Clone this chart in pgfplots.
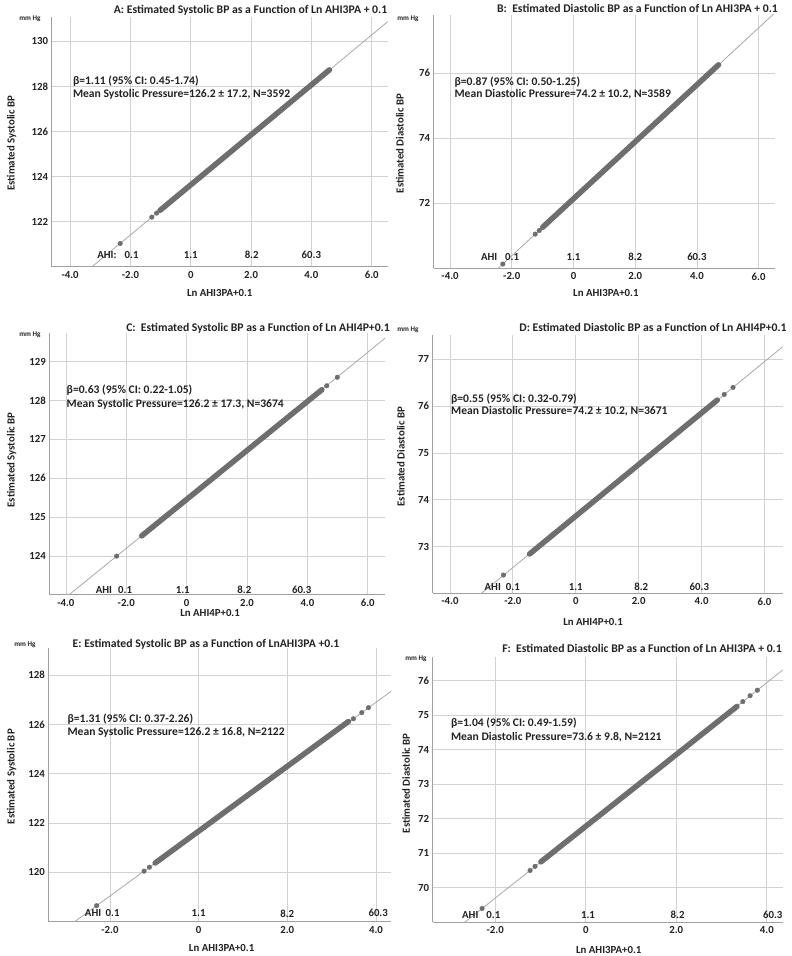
\documentclass[border=0pt]{standalone}
\usepackage{pgfplots}
\pgfplotsset{compat=1.18}
\usepackage{fontspec}
\setmainfont{Carlito}[BoldFont={Carlito Bold}]
\definecolor{txt}{HTML}{222222}
\definecolor{gridgray}{HTML}{D2D2D2}
\definecolor{axgray}{HTML}{A0A0A0}
\definecolor{linegray}{HTML}{A8A8A8}
\definecolor{ptgray}{HTML}{6E6E6E}
\newcommand{\tfont}{\bfseries\fontsize{11.7}{14}\selectfont}
\newcommand{\lfont}{\bfseries\fontsize{10.8}{12}\selectfont}
\newcommand{\kfont}{\bfseries\fontsize{10.8}{12}\selectfont}
\newcommand{\afont}{\bfseries\fontsize{11.6}{14}\selectfont}
\newcommand{\mfont}{\bfseries\fontsize{7.2}{8}\selectfont}
\tikzset{
  ahi/.style={font=\kfont, text=txt, anchor=center},
  ann/.style={font=\afont, text=txt, anchor=west, inner sep=0pt},
}
\pgfplotsset{
  bp/.style={
    scale only axis,
    anchor=south west,
    axis lines*=left,
    axis line style={draw=axgray, line width=1pt},
    grid=major,
    grid style={draw=gridgray, line width=0.8pt},
    major tick length=0pt,
    tick style={draw=none},
    ticklabel style={font=\kfont, text=txt},
    xticklabel style={yshift=-1pt},
    label style={font=\lfont, text=txt},
    xlabel style={anchor=center},
    ylabel style={anchor=center},
    clip mode=individual,
  },
  regline/.style={draw=linegray, line width=0.8pt, no marks},
  band/.style={draw=ptgray, line width=5.5pt, line cap=round, no marks},
  pts/.style={only marks, mark=*, mark size=2.3pt, mark options={fill=ptgray, draw=ptgray}},
}
\begin{document}
\begin{tikzpicture}
\useasboundingbox (0pt,0pt) rectangle (792pt,956pt);

% ---------------- A ----------------
\begin{axis}[bp, at={(51.7pt,689.3pt)}, width=336pt, height=250pt,
  xmin=-4.61, xmax=6.53, ymin=120, ymax=131.1,
  xtick={-4,-2,0,2,4,6}, xticklabels={-4.0,-2.0,0,2.0,4.0,6.0},
  ytick={122,124,126,128,130}, yticklabels={122,124,126,128,130},
  xlabel={Ln AHI3PA+0.1}, xlabel style={at={(axis description cs:0.5,-0.105)}},
  ylabel={Estimated Systolic BP}, ylabel style={at={(axis description cs:-0.119,0.494)}}]
\addplot[regline] coordinates {(-3.4,119.856) (6.6,130.956)};
\addplot[band] coordinates {(-1.02,122.50) (4.60,128.74)};
\addplot[pts] coordinates {(-2.34,121.03) (-1.29,122.20) (-1.13,122.38)};
\node[ahi] at (axis cs:-2.78,120.52) {AHI:};
\node[ahi] at (axis cs:-1.96,120.52) {0.1};
\node[ahi] at (axis cs:0,120.52) {1.1};
\node[ahi] at (axis cs:2.02,120.52) {8.2};
\node[ahi] at (axis cs:4.0,120.52) {60.3};
\node[ann] at (axis cs:-3.91,128.23) {β=1.11 (95\% CI: 0.45-1.74)};
\node[ann] at (axis cs:-3.91,127.67) {Mean Systolic Pressure=126.2 ± 17.2, N=3592};
\end{axis}

% ---------------- B ----------------
\begin{axis}[bp, at={(433.7pt,687.7pt)}, width=341.6pt, height=253.3pt,
  xmin=-4.53, xmax=6.54, ymin=70, ymax=77.78,
  xtick={-4,-2,0,2,4,6}, xticklabels={-4.0,-2.0,0,2.0,4.0,6.0},
  ytick={72,74,76}, yticklabels={72,74,76},
  xlabel={Ln AHI3PA+0.1}, xlabel style={at={(axis description cs:0.504,-0.0975)}},
  ylabel={Estimated Diastolic BP}, ylabel style={at={(axis description cs:-0.0987,0.493)}}]
\addplot[regline] coordinates {(-2.6,69.86) (6.6,77.91)};
\addplot[band] coordinates {(-1.00,71.26) (4.70,76.25)};
\addplot[pts] coordinates {(-2.29,70.13) (-1.24,71.05) (-1.11,71.16)};
\node[ahi] at (axis cs:-2.73,70.34) {AHI};
\node[ahi] at (axis cs:-1.99,70.34) {0.1};
\node[ahi] at (axis cs:0,70.34) {1.1};
\node[ahi] at (axis cs:2,70.34) {8.2};
\node[ahi] at (axis cs:4,70.34) {60.3};
\node[ann] at (axis cs:-3.86,75.71) {β=0.87 (95\% CI: 0.50-1.25)};
\node[ann] at (axis cs:-3.86,75.34) {Mean Diastolic Pressure=74.2 ± 10.2, N=3589};
\end{axis}

% ---------------- C ----------------
\begin{axis}[bp, at={(49.3pt,361pt)}, width=335.7pt, height=261.7pt,
  xmin=-4.55, xmax=6.57, ymin=123, ymax=129.73,
  xtick={-4,-2,0,2,4,6}, xticklabels={-4.0,-2.0,0,2.0,4.0,6.0},
  ytick={124,125,126,127,128,129}, yticklabels={124,125,126,127,128,129},
  xlabel={Ln AHI4P+0.1}, xlabel style={at={(axis description cs:0.479,-0.070)}},
  ylabel={Estimated Systolic BP}, ylabel style={at={(axis description cs:-0.112,0.516)}}]
\addplot[regline] coordinates {(-4.0,122.94) (6.6,129.62)};
\addplot[band] coordinates {(-1.49,124.52) (4.48,128.28)};
\addplot[pts] coordinates {(-2.32,124.00) (4.64,128.38) (4.99,128.60)};
\node[ahi] at (axis cs:-2.74,123.13) {AHI};
\node[ahi] at (axis cs:-2.04,123.13) {0.1};
\node[ahi] at (axis cs:-0.13,123.13) {1.1};
\node[ahi] at (axis cs:1.91,123.13) {8.2};
\node[ahi] at (axis cs:3.81,123.13) {60.3};
\node[ann] at (axis cs:-3.98,128.27) {β=0.63 (95\% CI: 0.22-1.05)};
\node[ann] at (axis cs:-3.98,127.90) {Mean Systolic Pressure=126.2 ± 17.3, N=3674};
\end{axis}

% ---------------- D ----------------
\begin{axis}[bp, at={(432.7pt,362.7pt)}, width=350pt, height=258.3pt,
  xmin=-4.55, xmax=6.58, ymin=72, ymax=77.52,
  xtick={-4,-2,0,2,4,6}, xticklabels={-4.0,-2.0,0,2.0,4.0,6.0},
  ytick={73,74,75,76,77}, yticklabels={73,74,75,76,77},
  xlabel={Ln AHI4P+0.1}, xlabel style={at={(axis description cs:0.458,-0.111)}},
  ylabel={Estimated  Diastolic BP}, ylabel style={at={(axis description cs:-0.0906,0.529)}}]
\addplot[regline] coordinates {(-3.1,71.945) (6.6,77.28)};
\addplot[band] coordinates {(-1.47,72.84) (4.50,76.13)};
\addplot[pts] coordinates {(-2.30,72.39) (4.72,76.25) (5.00,76.40)};
\node[ahi] at (axis cs:-2.64,72.13) {AHI};
\node[ahi] at (axis cs:-2.0,72.13) {0.1};
\node[ahi] at (axis cs:0,72.13) {1.1};
\node[ahi] at (axis cs:2.08,72.13) {8.2};
\node[ahi] at (axis cs:3.93,72.13) {60.3};
\node[ann] at (axis cs:-3.97,76.15) {β=0.55 (95\% CI: 0.32-0.79)};
\node[ann] at (axis cs:-3.97,75.89) {Mean Diastolic Pressure=74.2 ± 10.2, N=3671};
\end{axis}

% ---------------- E ----------------
\begin{axis}[bp, at={(48.3pt,34.3pt)}, width=343.2pt, height=273.7pt,
  xmin=-3.39, xmax=4.35, ymin=118, ymax=129.1,
  xtick={-2,0,2,4}, xticklabels={-2.0,0,2.0,4.0},
  ytick={120,122,124,126,128}, yticklabels={120,122,124,126,128},
  xlabel={Ln AHI3PA+0.1}, xlabel style={at={(axis description cs:0.505,-0.097)}},
  ylabel={Estimated Systolic BP}, ylabel style={at={(axis description cs:-0.1066,0.53)}}]
\addplot[regline] coordinates {(-2.85,117.93) (4.4,127.42)};
\addplot[band] coordinates {(-0.98,120.38) (3.38,126.12)};
\addplot[pts] coordinates {(-2.30,118.65) (-1.23,120.05) (-1.11,120.21) (3.49,126.23) (3.68,126.48) (3.83,126.68)};
\node[ahi] at (axis cs:-2.38,118.34) {AHI};
\node[ahi] at (axis cs:-1.94,118.34) {0.1};
\node[ahi] at (axis cs:0,118.34) {1.1};
\node[ahi] at (axis cs:2.0,118.34) {8.2};
\node[ahi] at (axis cs:4.05,118.34) {60.3};
\node[ann] at (axis cs:-2.96,126.20) {β=1.31 (95\% CI: 0.37-2.26)};
\node[ann] at (axis cs:-2.96,125.66) {Mean Systolic Pressure=126.2 ± 16.8, N=2122};
\end{axis}

% ---------------- F ----------------
\begin{axis}[bp, at={(432.7pt,33.7pt)}, width=350pt, height=265.6pt,
  xmin=-3.38, xmax=4.35, ymin=69, ymax=76.69,
  xtick={-2,0,2,4}, xticklabels={-2.0,0,2.0,4.0},
  ytick={70,71,72,73,74,75,76}, yticklabels={70,71,72,73,74,75,76},
  xlabel={Ln AHI3PA+0.1}, xlabel style={at={(axis description cs:0.503,-0.104)}},
  ylabel={Estimated Diastolic BP}, ylabel style={at={(axis description cs:-0.0763,0.523)}}]
\addplot[regline] coordinates {(-2.75,68.92) (4.4,76.356)};
\addplot[band] coordinates {(-0.99,70.75) (3.34,75.25)};
\addplot[pts] coordinates {(-2.29,69.40) (-1.23,70.50) (-1.12,70.62) (3.47,75.39) (3.63,75.56) (3.79,75.72)};
\node[ahi] at (axis cs:-2.55,69.21) {AHI};
\node[ahi] at (axis cs:-2.04,69.21) {0.1};
\node[ahi] at (axis cs:0.05,69.21) {1.1};
\node[ahi] at (axis cs:2.03,69.21) {8.2};
\node[ahi] at (axis cs:4.13,69.21) {60.3};
\node[ann] at (axis cs:-2.98,74.77) {β=1.04 (95\% CI: 0.49-1.59)};
\node[ann] at (axis cs:-2.98,74.36) {Mean Diastolic Pressure=73.6 ± 9.8, N=2121};
\end{axis}

% titles and unit labels
\node[font=\tfont, text=txt] at (250.5pt,946pt) {A: Estimated Systolic BP as a Function of Ln AHI3PA + 0.1};
\node[font=\tfont, text=txt] at (637.5pt,948pt) {B:\ \ Estimated Diastolic BP as a Function of Ln AHI3PA + 0.1};
\node[font=\tfont, text=txt] at (258pt,628pt) {C:\ \ Estimated Systolic BP as a Function of Ln AHI4P+0.1};
\node[font=\tfont, text=txt] at (653pt,629pt) {D: Estimated Diastolic BP as a Function of Ln AHI4P+0.1};
\node[font=\tfont, text=txt] at (206pt,312pt) {E: Estimated Systolic BP as a Function of LnAHI3PA +0.1};
\node[font=\tfont, text=txt] at (642pt,307.7pt) {F:\ \ Estimated Diastolic BP as a Function of Ln AHI3PA + 0.1};
\node[font=\mfont, text=txt] at (30pt,937.7pt) {mm Hg};
\node[font=\mfont, text=txt] at (408pt,937.7pt) {mm Hg};
\node[font=\mfont, text=txt] at (30pt,621pt) {mm Hg};
\node[font=\mfont, text=txt] at (408pt,626pt) {mm Hg};
\node[font=\mfont, text=txt] at (25pt,311pt) {mm Hg};
\node[font=\mfont, text=txt] at (416pt,297.7pt) {mm Hg};
\end{tikzpicture}
\end{document}
